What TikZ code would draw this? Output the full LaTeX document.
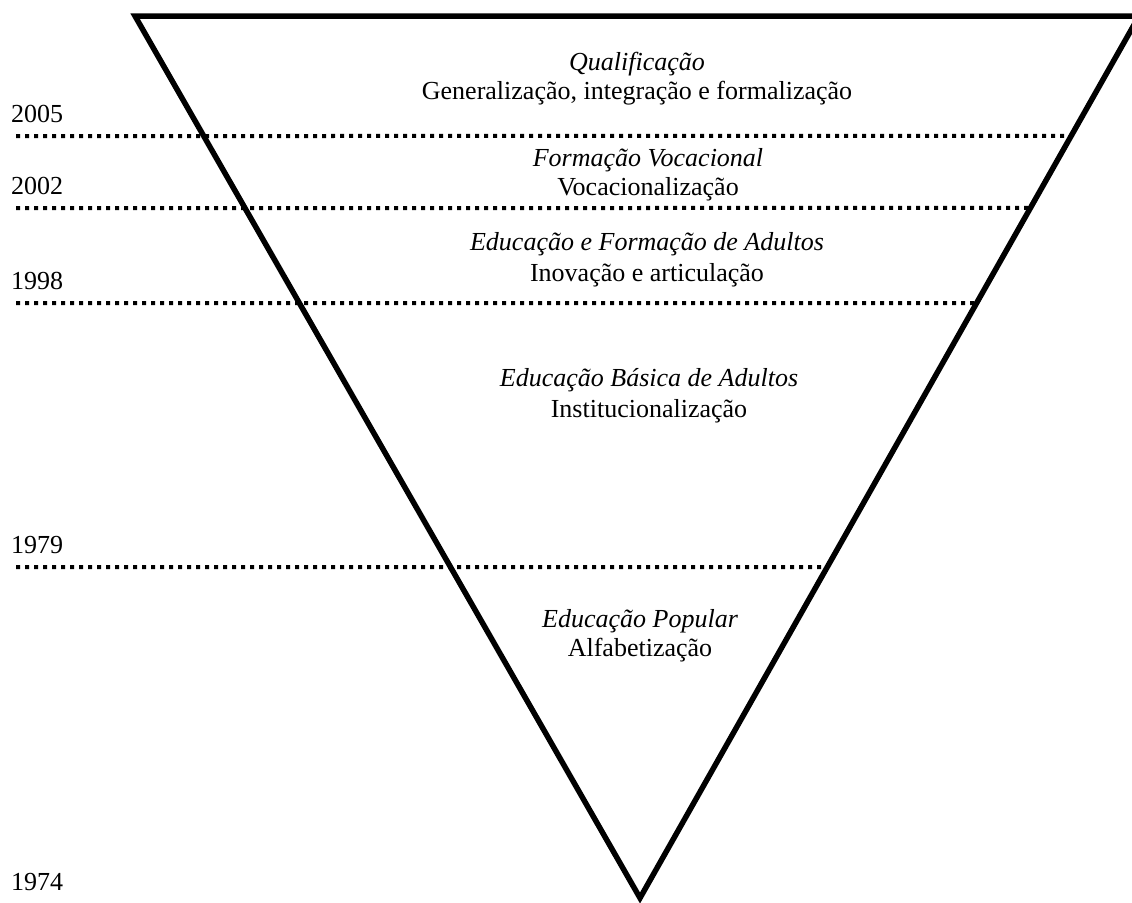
\documentclass[tikz,border=0pt]{standalone}
\usepackage{fontspec}
\setmainfont{Liberation Serif}
\usetikzlibrary{calc}
\begin{document}
\begin{tikzpicture}[x=1pt,y=-1pt,
  edge/.style={line width=5.5pt,line join=miter},
  period/.style={line width=4pt,dash pattern=on 4pt off 5pt},
  txt/.style={anchor=base,inner sep=0pt,font=\fontsize{26}{30}\selectfont},
  stagetitle/.style={txt,font=\fontsize{26}{30}\selectfont\itshape},
  year/.style={txt,anchor=base west}]
\useasboundingbox (0,0) rectangle (1132,902);
\clip (0,0) rectangle (1132,902);
% funnel
\coordinate (TL) at (135,16);
\coordinate (TR) at (1139,16);
\coordinate (V) at (640,898);
\draw[edge] (TL) -- (TR) -- (V) -- cycle;
% period boundaries, each running to the right side of the funnel
\foreach \n/\y in {a/136,b/208,c/303,d/567}{
  \coordinate (L\n) at (16,\y);
  \coordinate (R\n) at ($(TR)!{(\y-16)/882}!(V)$);
  \draw[period] (L\n) -- (R\n);
}
% years
\node[year] (y2005) at (11,122) {2005};
\node[year] (y2002) at (11,194) {2002};
\node[year] (y1998) at (11,289) {1998};
\node[year] (y1979) at (11,553) {1979};
\node[year] (y1974) at (11,890) {1974};
% stages
\node[stagetitle] (s1t) at (637,70) {Qualificação};
\node[txt] (s1d) at (637,99) {Generalização, integração e formalização};
\node[stagetitle] (s2t) at (648,166) {Formação Vocacional};
\node[txt] (s2d) at (648,195) {Vocacionalização};
\node[stagetitle] (s3t) at (647,250) {Educação e Formação de Adultos};
\node[txt] (s3d) at (647,281) {Inovação e articulação};
\node[stagetitle] (s4t) at (649,386) {Educação Básica de Adultos};
\node[txt] (s4d) at (649,417) {Institucionalização};
\node[stagetitle] (s5t) at (640,627) {Educação Popular};
\node[txt] (s5d) at (640,656) {Alfabetização};
\end{tikzpicture}
\end{document}
